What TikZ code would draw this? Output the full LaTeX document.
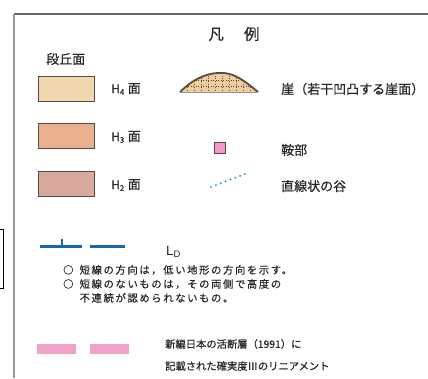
\documentclass[tikz,border=0pt]{standalone}
\usepackage{fontspec}
\setmainfont{Liberation Sans}
\newfontfamily\jp{Noto Sans CJK JP}[FakeBold=0.4]
\newfontfamily\jpsp{Noto Sans CJK JP}[FakeBold=0.3,LetterSpace=16]
\usetikzlibrary{calc}
\definecolor{txt}{HTML}{262626}
\definecolor{hfour}{HTML}{EFD8B0}
\definecolor{hthree}{HTML}{E8B08C}
\definecolor{htwo}{HTML}{D8A99C}
\definecolor{swborder}{HTML}{5A4A40}
\definecolor{saddle}{HTML}{F09CC4}
\definecolor{valley}{HTML}{3FA3DA}
\definecolor{ldblue}{HTML}{1866B0}
\definecolor{lpink}{HTML}{F2A2C8}
\definecolor{framegray}{HTML}{666666}
\definecolor{clifffill}{HTML}{EBCFA0}
\tikzset{
  swatch/.style={draw=swborder, line width=1.2pt, minimum width=56pt, minimum height=25pt, inner sep=0pt},
  lbl/.style={anchor=west, text=txt, font=\jp\fontsize{13}{15}\selectfont, inner sep=0pt},
  note/.style={anchor=west, text=txt, font=\jpsp\fontsize{10.3}{14}\selectfont, inner sep=0pt, align=left},
  pnote/.style={anchor=west, text=txt, font=\jp\fontsize{10.3}{14}\selectfont, inner sep=0pt},
}
\begin{document}
\begin{tikzpicture}[x=1pt,y=-1pt]
\useasboundingbox (0,0) rectangle (428,378);
\fill[white] (0,0) rectangle (428,378);
% frame
\draw[framegray, line width=2pt] (14,14) -- (428,14);
\draw[gray!80, line width=2pt] (14,14) -- (14,378);
\draw[black, line width=0.9pt] (-2,229) -- (3,229) -- (3,288) -- (-2,288);
% title
\node[text=txt, font=\jp\fontsize{15.5}{17}\selectfont] (title) at (234,34) {凡\hspace{1.3em}例};
\node[lbl] (dankyu) at (46,59) {段丘面};
% swatches
\node[swatch, fill=hfour] (h4) at (66.5,89) {};
\node[swatch, fill=hthree] (h3) at (66.5,136) {};
\node[swatch, fill=htwo] (h2) at (66.5,184) {};
\node[lbl] (h4l) at (111,89) {{\fontsize{12}{14}\selectfont H\textsubscript{4}} 面};
\node[lbl] (h3l) at (111,137) {{\fontsize{12}{14}\selectfont H\textsubscript{3}} 面};
\node[lbl] (h2l) at (111,185) {{\fontsize{12}{14}\selectfont H\textsubscript{2}} 面};
% cliff
\coordinate (cl) at (180,92);
\coordinate (cr) at (258,92);
\fill[clifffill] (cl) .. controls (196,76) and (212,72) .. (224,73) .. controls (236,74) and (246,82) .. (cr) -- cycle;
\begin{scope}
\clip (cl) .. controls (196,76) and (212,72) .. (224,73) .. controls (236,74) and (246,82) .. (cr) -- cycle;
\foreach \x in {187,194,...,252} \draw[brown!60!black, dotted, line width=0.8pt] (\x,70) -- (\x,92);
\foreach \y in {80,86} \draw[brown!50!black, dotted, line width=0.5pt] (178,\y) -- (260,\y);
\end{scope}
\draw[swborder, line width=1.8pt] (cl) .. controls (196,76) and (212,72) .. (224,73) .. controls (236,74) and (246,82) .. (cr);
\draw[swborder!60, line width=0.5pt] (cl) -- (cr);
\node[lbl] (clifflbl) at (281,89) {崖（若干凹凸する崖面）};
% saddle
\node[draw=swborder, line width=1pt, fill=saddle, minimum size=11.5pt, inner sep=0pt] (saddlesq) at (220,148) {};
\node[lbl] (saddlelbl) at (281,150) {鞍部};
% valley
\coordinate (v1) at (211,187);
\coordinate (v2) at (245,174);
\foreach \t in {0,0.1429,0.2857,0.4286,0.5714,0.7143,0.8571,1} \fill[valley] ($(v1)!\t!(v2)$) circle (1.2pt);
\node[lbl] (valleylbl) at (281,186) {直線状の谷};
% LD
\coordinate (ld1a) at (40,246);
\coordinate (ld1b) at (82,246);
\coordinate (ld2a) at (90,246);
\coordinate (ld2b) at (125,246);
\coordinate (ldt) at (62,239);
\draw[ldblue, line width=3pt] (ld1a) -- (ld1b);
\draw[ldblue, line width=3pt] (ld2a) -- (ld2b);
\draw[ldblue, line width=2.5pt] (ldt) -- (62,246);
\node[lbl, font=\fontsize{13.5}{15}\selectfont] (ldl) at (166,252) {L\textsubscript{D}};
% notes
\node[note] (n1) at (63,270) {○\hspace{0.6em}短線の方向は，低い地形の方向を示す。};
\node[note, anchor=north west] (n2) at (63,279) {○\hspace{0.6em}短線のないものは，その両側で高度の\\\hphantom{○\hspace{0.6em}}不連続が認められないもの。};
% pink lineament
\fill[lpink] (37,344) rectangle (76,354);
\fill[lpink] (90,344) rectangle (129,354);
\node[pnote] (p1) at (165,344) {新編日本の活断層（1991）に};
\node[pnote] (p2) at (165,366) {記載された確実度Ⅲのリニアメント};
\end{tikzpicture}
\end{document}
